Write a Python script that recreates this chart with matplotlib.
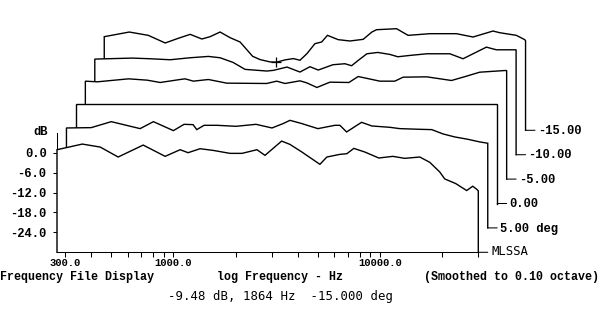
import matplotlib
matplotlib.use("Agg")
import matplotlib.pyplot as plt
from matplotlib.ticker import FixedLocator, NullFormatter
from matplotlib.transforms import ScaledTranslation

# Vertical response family, normalised to the reference axis.
# Rows go front to back; each row is frequency (Hz) / level (dB).
freq_front = [273, 362, 442, 540, 714, 912, 1078, 1178, 1346, 1556, 1881, 2150, 2541,
              2778, 3345, 3670, 4194, 5126, 5541, 6404, 6923, 7485, 8463, 9890, 11560,
              13210, 15620, 17460, 19510, 20630, 23320, 26360, 28180, 29460, 30000]
db_front = [0.9, 2.6, 1.7, -1.3, 2.3, -1.1, 0.9, 0.0, 1.2, 0.7, -0.2, -0.2, 0.9,
            -0.8, 3.5, 2.5, 0.2, -3.5, -1.3, -0.5, -0.3, 1.3, 0.2, -1.6, -1.1,
            -1.7, -1.3, -2.9, -5.8, -7.9, -9.3, -11.4, -10.1, -11.0, -11.5]

freq_p5 = [273, 360, 450, 621, 720, 900, 1014, 1121, 1168, 1267, 1464, 1810, 2262, 2703,
           3055, 3303, 3734, 4511, 5453, 5766, 6214, 7340, 8234, 10060, 11250, 14050,
           16070, 18220, 20760, 23990, 27430, 30000]
db_p5 = [0.1, 0.2, 2.0, -0.1, 2.0, -0.7, 1.2, 1.1, -0.4, 0.9, 0.9, 0.6, 1.2, 0.1,
         1.4, 2.4, 1.5, -0.1, 0.9, 0.9, -1.1, 1.8, 0.7, 0.3, -0.1, -0.3,
         -0.4, -1.7, -2.6, -3.3, -4.1, -4.5]

freq_0 = [273, 30000]
db_0 = [0.0, 0.0]

freq_m5 = [273, 312, 442, 544, 629, 786, 831, 911, 1077, 1322, 2064, 2307, 2531, 2991,
           3223, 3614, 4178, 5163, 5727, 7291, 8618, 9454, 12310, 16210, 18450, 22220,
           29350, 30000]
db_m5 = [-0.5, -0.7, 0.2, -0.2, -0.9, 0.0, 0.2, -0.5, 0.0, -1.1, -1.2, -0.5, -1.2, -0.4,
         -1.0, -2.4, -0.8, -0.9, 0.9, -0.5, -0.5, 0.7, 0.8, -0.3, 0.7, 2.2,
         2.7, 2.7]

freq_m10 = [273, 415, 506, 633, 791, 969, 1104, 1276, 1459, 1858, 2000, 2329, 2692, 3010,
            3301, 3888, 4444, 4789, 5155, 5679, 6418, 7337, 8022, 9168, 11080, 14320,
            16600, 21540, 24080, 30000]
db_m10 = [-1.2, -0.9, -1.1, -1.4, -0.8, -0.4, -0.8, -2.2, -4.3, -4.8, -4.6, -3.6, -5.1, -3.5,
          -4.5, -2.9, -2.6, -3.2, -1.6, 0.4, 0.8, 0.2, -0.5, -0.1, 0.4, 0.4,
          -1.1, 2.4, 1.6, 1.6]

freq_m15 = [273, 361, 446, 539, 616, 712, 811, 889, 994, 1111, 1242, 1428, 1552, 1735,
            1864, 2050, 2249, 2423, 2620, 2863, 3086, 3292, 3712, 4230, 4904, 5404,
            5693, 7116, 8096, 10310, 13880, 16700, 20870, 22480, 27080, 29720, 30000]
db_m15 = [-1.8, -0.4, -1.4, -3.7, -2.4, -1.1, -2.5, -1.8, -0.4, -2.1, -3.4, -7.7, -8.7, -9.4,
          -9.48, -8.8, -8.4, -8.9, -6.9, -3.9, -3.4, -1.4, -2.7, -3.1, -2.6, -0.4,
          0.3, 0.6, -1.4, -0.9, -0.9, -1.9, -0.1, -0.6, -1.4, -2.7, -3.0]

rows = [(freq_front, db_front), (freq_p5, db_p5), (freq_0, db_0),
        (freq_m5, db_m5), (freq_m10, db_m10), (freq_m15, db_m15)]
row_labels = ["MLSSA", "5.00 deg", "0.00", "-5.00", "-10.00", "-15.00"]

yticks = [0, -6, -12, -18, -24]
ytick_labels = ["0.0", "-6.0", "-12.0", "-18.0", "-24.0"]
xticks_major = [300, 1000, 10000]
xtick_labels = ["300.0", "1000.0", "10000.0"]
xticks_minor = [400, 500, 600, 700, 800, 900, 2000, 3000, 4000, 5000, 6000,
                7000, 8000, 9000, 20000, 30000]

cursor_f, cursor_db, cursor_deg = 1864, -9.48, -15.0
cursor_row = 5

BASE = -30.0
DX, DY = 0.0945, 0.244   # shift of each row, inches

MONO = "Liberation Mono"
fs = 8.7

fig = plt.figure(figsize=(6.0, 3.28), dpi=100)
ax = fig.add_axes([57 / 600, 1 - 252.3 / 328, 421.3 / 600, 232.4 / 328])
ax.set_xscale("log")
ax.set_xlim(273, 30000)
ax.set_ylim(BASE, 40)
ax.set_autoscale_on(False)
ax.patch.set_visible(False)

n = len(rows)
for k in reversed(range(n)):
    f, db = rows[k]
    tr = ax.transData + ScaledTranslation(k * DX, k * DY, fig.dpi_scale_trans)
    xs = [f[0]] + list(f) + [f[-1]]
    ys = [BASE] + list(db) + [BASE]
    z = 10 + 3 * (n - k)
    ax.fill(xs, ys, facecolor="white", edgecolor="none", transform=tr,
            zorder=z, clip_on=False)
    ax.plot(xs, ys, color="black", lw=1.0, transform=tr, zorder=z + 1,
            clip_on=False, solid_joinstyle="miter")
    # short lead-out to the row label
    ax.annotate("", xy=(f[-1], BASE), xycoords=tr,
                xytext=(DX * 72, 0), textcoords="offset points",
                arrowprops=dict(arrowstyle="-", lw=0.75, color="black",
                                shrinkA=0, shrinkB=0), zorder=z + 1)
    if k == 0:
        ax.annotate(row_labels[k], xy=(f[-1], BASE), xycoords=tr,
                    xytext=(DX * 72 + 3, 0.5), textcoords="offset points",
                    ha="left", va="center", fontsize=8.8,
                    family="DejaVu Sans Mono", zorder=40)
    else:
        ax.annotate(row_labels[k], xy=(f[-1], BASE), xycoords=tr,
                    xytext=(DX * 72 + 2, -0.5), textcoords="offset points",
                    ha="left", va="center", fontsize=fs, family=MONO,
                    fontweight="bold", zorder=40)

# cursor on the back row
tr_c = ax.transData + ScaledTranslation(cursor_row * DX, cursor_row * DY,
                                        fig.dpi_scale_trans)
ax.plot([cursor_f], [cursor_db], marker="+", ms=7, mew=0.9, color="black",
        transform=tr_c, zorder=40, clip_on=False)

for side in ("top", "right"):
    ax.spines[side].set_visible(False)
for side in ("left", "bottom"):
    ax.spines[side].set_linewidth(0.75)
ax.spines["left"].set_bounds(BASE, 6)
ax.spines["bottom"].set_zorder(50)

ax.xaxis.set_major_locator(FixedLocator(xticks_major))
ax.xaxis.set_minor_locator(FixedLocator(xticks_minor))
ax.set_xticklabels(xtick_labels)
ax.xaxis.set_minor_formatter(NullFormatter())
ax.set_yticks(yticks)
ax.set_yticklabels(ytick_labels)
ax.tick_params(axis="x", which="both", direction="out", length=3.6, width=0.75, pad=0.8)
ax.tick_params(axis="y", direction="out", length=3.0, width=0.75, pad=4.5)
for lab in ax.get_xticklabels():
    lab.set_family(MONO)
    lab.set_fontweight("bold")
    lab.set_fontsize(7.6)
for lab in ax.get_yticklabels():
    lab.set_family(MONO)
    lab.set_fontweight("bold")
    lab.set_fontsize(fs)

fig.text(48 / 600, 1 - 131.7 / 328, "dB", ha="right", va="center",
         family=MONO, fontweight="bold", fontsize=fs)

y_cap = 1 - 277.3 / 328
fig.text(0.0, y_cap, "Frequency File Display", ha="left", va="center",
         family=MONO, fontweight="bold", fontsize=8.4)
fig.text(280 / 600, y_cap, "log Frequency - Hz", ha="center", va="center",
         family=MONO, fontweight="bold", fontsize=8.4)
fig.text(599 / 600, y_cap, "(Smoothed to 0.10 octave)", ha="right", va="center",
         family=MONO, fontweight="bold", fontsize=8.4)

fig.text(280 / 600, 1 - 296.7 / 328,
         f"{cursor_db:.2f} dB, {cursor_f} Hz  {cursor_deg:.3f} deg",
         ha="center", va="center", family="DejaVu Sans Mono", fontsize=8.9)

fig.savefig("out.png", dpi=100, facecolor="white")
